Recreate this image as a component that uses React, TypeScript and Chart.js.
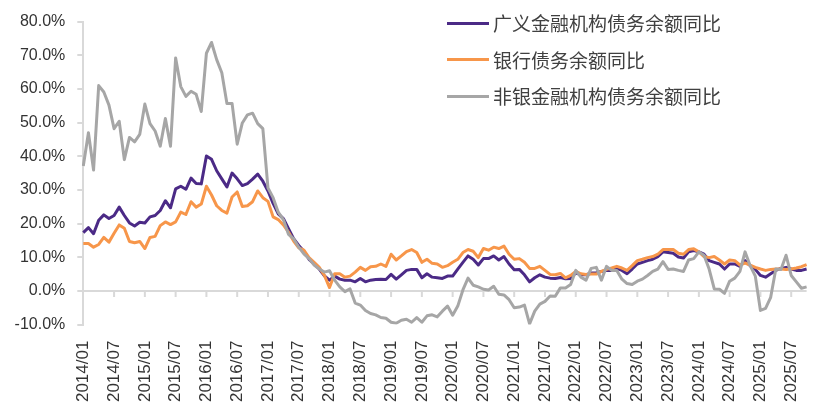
import React, { useEffect, useRef } from 'react';
import { Chart, registerables } from 'chart.js';

Chart.register(...registerables);

// 2014/01 - 2025/10, monthly
const months: string[] = [];
for (let y = 2014; y <= 2025; y++) {
  for (let m = 1; m <= 12; m++) {
    if (y === 2025 && m > 10) break;
    months.push(`${y}/${String(m).padStart(2, '0')}`);
  }
}

const seriesNames = ['广义金融机构债务余额同比', '银行债务余额同比', '非银金融机构债务余额同比'];
const seriesColors = ['#4b2a86', '#f7964a', '#a6a6a6'];

const yTicks = [-10, 0, 10, 20, 30, 40, 50, 60, 70, 80];

// 广义金融机构
const totalYoY = [
  17.3, 18.8, 17.0, 21.0, 22.6, 21.5, 22.4, 24.9, 22.4, 20.2, 19.3, 20.4,
  20.2, 22.0, 22.4, 23.9, 26.8, 24.7, 30.3, 31.1, 30.2, 33.5, 31.9, 31.8,
  40.1, 39.1, 35.7, 33.3, 30.9, 35.0, 33.3, 31.3, 31.9, 33.2, 34.7, 32.6,
  29.7, 26.0, 22.9, 21.5, 18.5, 15.5, 13.5, 11.8, 9.4, 8.0, 6.5, 4.5,
  3.2, 4.4, 3.5, 3.2, 3.2, 2.7, 3.7, 2.7, 3.2, 3.4, 3.5, 3.4,
  4.9, 3.5, 4.8, 6.1, 6.4, 6.4, 3.9, 5.1, 4.1, 3.9, 3.7, 4.4,
  4.4, 6.5, 8.5, 10.4, 9.4, 7.7, 9.6, 9.6, 10.4, 9.2, 10.2, 8.0,
  6.3, 6.4, 4.8, 2.7, 3.9, 4.8, 4.1, 3.8, 3.7, 4.0, 3.6, 3.7,
  5.4, 4.8, 4.8, 5.3, 5.4, 5.8, 6.1, 6.1, 6.7, 6.1, 5.1, 6.5,
  8.0, 8.5, 9.0, 9.4, 10.2, 11.6, 11.4, 11.2, 10.1, 9.8, 11.6, 12.0,
  11.6, 10.9, 9.0, 8.5, 8.0, 6.5, 8.0, 8.0, 7.3, 9.0, 7.5, 6.4,
  4.6, 4.1, 5.1, 6.1, 6.7, 7.0, 6.5, 6.1, 6.1, 6.5,
];

// 银行
const bankYoY = [
  14.1, 14.1, 13.0, 13.8, 15.9, 14.5, 17.1, 19.6, 18.6, 14.7, 14.3, 14.7,
  12.6, 15.9, 16.2, 19.4, 20.5, 19.7, 20.5, 23.4, 22.7, 26.5, 24.9, 25.8,
  31.1, 28.5, 25.3, 23.9, 23.1, 27.9, 29.4, 25.1, 25.3, 26.5, 29.7, 27.7,
  26.6, 22.0, 21.2, 19.6, 17.5, 14.8, 12.8, 12.1, 9.9, 8.5, 7.0, 4.6,
  1.0, 5.1, 5.1, 4.1, 4.4, 5.6, 7.0, 6.1, 7.2, 7.3, 8.0, 7.3,
  10.9, 9.2, 10.4, 11.7, 12.3, 11.4, 8.5, 9.4, 8.2, 8.0, 7.0, 7.5,
  8.5, 9.4, 11.4, 12.3, 11.8, 9.9, 12.6, 12.1, 13.0, 12.6, 13.3, 10.9,
  9.4, 9.6, 8.5, 6.7, 6.7, 7.3, 6.1, 4.9, 4.8, 5.2, 3.9, 4.6,
  5.8, 5.1, 4.9, 5.0, 5.0, 5.8, 6.4, 6.8, 7.3, 6.8, 6.1, 7.5,
  9.0, 9.4, 9.9, 10.2, 10.9, 12.3, 12.3, 12.3, 11.2, 10.9, 12.3, 12.5,
  11.6, 10.2, 9.9, 10.2, 9.2, 8.0, 9.2, 9.0, 7.7, 8.3, 7.7, 7.0,
  6.5, 6.1, 6.4, 6.5, 6.5, 6.4, 6.5, 6.8, 7.2, 7.8,
];

// 非银金融机构
const nonBankYoY = [
  37.1, 47.0, 35.9, 61.0, 59.1, 55.2, 48.2, 50.4, 39.0, 45.6, 44.3, 46.5,
  55.5, 49.7, 47.5, 43.0, 51.2, 43.0, 69.2, 60.7, 57.8, 59.3, 58.4, 53.3,
  70.6, 73.8, 68.7, 64.8, 55.7, 55.7, 43.6, 49.9, 52.3, 52.8, 49.7, 48.2,
  30.6, 27.7, 23.4, 21.2, 16.8, 15.5, 13.0, 11.0, 9.6, 7.7, 6.5, 5.6,
  6.0, 3.2, 1.2, -0.2, 0.6, -3.6, -4.2, -5.8, -6.7, -7.1, -7.9, -8.1,
  -9.3, -9.6, -8.7, -8.4, -9.3, -7.9, -9.3, -7.4, -7.1, -7.7, -6.0, -4.5,
  -7.2, -4.5, 0.3, 3.8, 1.7, 1.2, 0.5, 0.3, 1.4, -1.0, -1.2, -2.6,
  -5.0, -4.8, -4.2, -9.8, -6.0, -3.9, -3.1, -1.5, -1.6, 0.9, 0.9, 1.9,
  6.1, 4.1, 3.2, 6.7, 7.0, 3.2, 7.3, 6.1, 6.1, 3.5, 2.2, 1.9,
  2.9, 3.5, 4.6, 5.8, 6.5, 8.7, 6.4, 6.5, 6.1, 5.8, 9.2, 9.6,
  11.6, 10.6, 6.5, 0.6, 0.5, -0.7, 2.9, 3.8, 5.8, 11.6, 7.5, 4.4,
  -5.8, -5.2, -1.9, 6.5, 6.4, 10.6, 4.6, 2.7, 0.8, 1.2,
];

const axisColor = '#d9d9d9';

// zero line with half-year tick marks (Excel style axis crossing at 0)
const zeroAxis = {
  id: 'zeroAxis',
  beforeDatasetsDraw(chart: any) {
    const { ctx, chartArea, scales } = chart;
    const y0 = scales.y.getPixelForValue(0);
    ctx.save();
    ctx.strokeStyle = axisColor;
    ctx.lineWidth = 2;
    ctx.beginPath();
    ctx.moveTo(chartArea.left, y0);
    ctx.lineTo(chartArea.right, y0);
    for (let i = 6; i < months.length; i += 6) {
      const x = scales.x.getPixelForValue(i);
      ctx.moveTo(x, y0);
      ctx.lineTo(x, y0 + 6);
    }
    ctx.stroke();
    ctx.restore();
  },
};

const LineChart: React.FC = () => {
  const chartRef = useRef<HTMLCanvasElement>(null);
  const chartInstance = useRef<Chart | null>(null);

  useEffect(() => {
    if (!chartRef.current) return;
    const ctx = chartRef.current.getContext('2d');
    if (!ctx) return;
    if (chartInstance.current) chartInstance.current.destroy();

    const data = [totalYoY, bankYoY, nonBankYoY];

    chartInstance.current = new Chart(ctx, {
      type: 'line',
      data: {
        labels: months,
        datasets: seriesNames.map((name, k) => ({
          label: name,
          data: data[k],
          borderColor: seriesColors[k],
          backgroundColor: seriesColors[k],
          borderWidth: 3,
          pointRadius: 0,
          tension: 0,
          fill: false,
          borderJoinStyle: 'round' as const,
          order: 3 - k,
        })),
      },
      options: {
        responsive: true,
        maintainAspectRatio: false,
        animation: false,
        layout: { padding: { top: 12.3, right: 22.7, left: 0, bottom: 0 } },
        plugins: {
          legend: { display: false },
          tooltip: { enabled: false },
        },
        scales: {
          x: {
            type: 'category',
            offset: false,
            grid: { display: false },
            border: { display: false },
            ticks: {
              autoSkip: false,
              minRotation: 90,
              maxRotation: 90,
              padding: 8,
              color: '#333333',
              font: { family: 'Liberation Sans, Arial, sans-serif', size: 17 },
              callback: (_v: any, i: number) => (i % 6 === 0 ? months[i] : ''),
            },
            afterFit: (scale: any) => {
              scale.height = 79.4;
            },
          },
          y: {
            min: -10,
            max: 80,
            afterBuildTicks: (scale: any) => {
              scale.ticks = yTicks.map((v) => ({ value: v }));
            },
            grid: {
              drawOnChartArea: false,
              color: axisColor,
              lineWidth: 2,
              tickLength: 6,
            },
            border: { color: axisColor, width: 2 },
            ticks: {
              padding: 12,
              color: '#333333',
              font: { family: 'Liberation Sans, Arial, sans-serif', size: 16 },
              callback: (v: any) => `${Number(v).toFixed(1)}%`,
            },
            afterFit: (scale: any) => {
              scale.width = 83.3;
            },
          },
        },
      },
      plugins: [zeroAxis],
    });

    return () => {
      if (chartInstance.current) {
        chartInstance.current.destroy();
        chartInstance.current = null;
      }
    };
  }, []);

  return (
    <div style={{ position: 'fixed', left: 0, top: 0, width: 835, height: 404, background: '#fff' }}>
      <canvas ref={chartRef}></canvas>
      {/* 图例 */}
      <div style={{ position: 'absolute', left: 447, top: 5, fontFamily: '"Noto Sans CJK SC", sans-serif', fontSize: 19, color: '#404040' }}>
        {seriesNames.map((name, k) => (
          <div key={name} style={{ display: 'flex', alignItems: 'center', height: 36.5, lineHeight: '36.5px' }}>
            <span style={{ display: 'inline-block', width: 42, height: 3, background: seriesColors[k], marginRight: 4 }} />
            <span>{name}</span>
          </div>
        ))}
      </div>
    </div>
  );
};

export default function App() {
  return <LineChart />;
}
